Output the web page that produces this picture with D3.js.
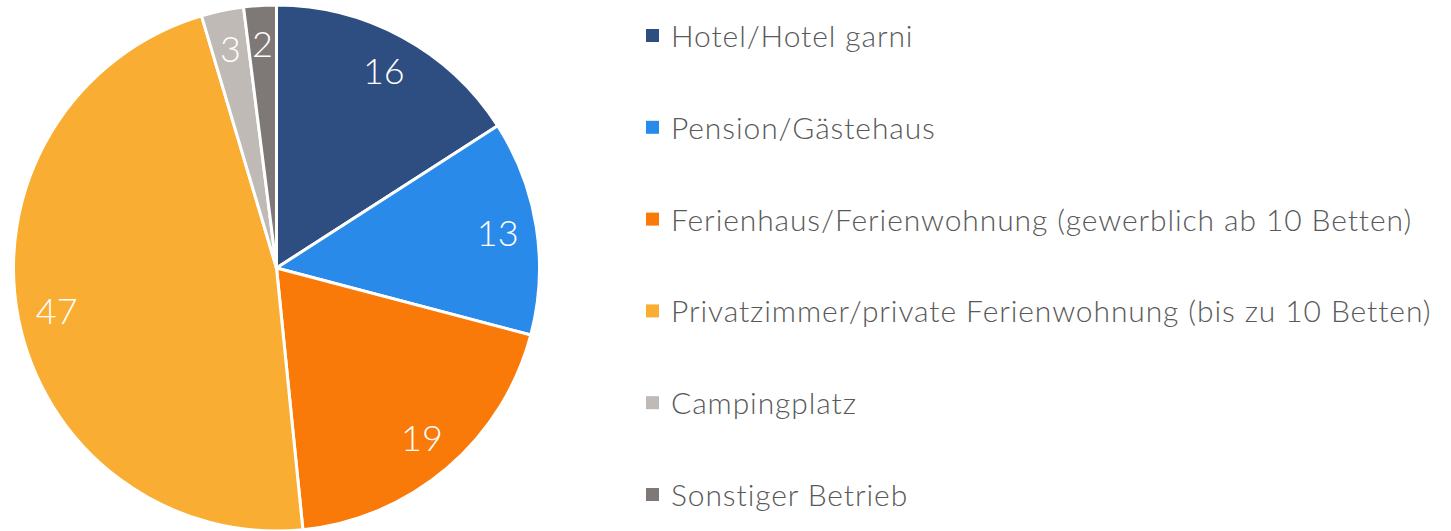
<!DOCTYPE html>
<html>
<head>
<meta charset="utf-8">
<script src="https://cdn.jsdelivr.net/npm/d3@7"></script>
<style>
  body { margin: 0; background: #fff; }
  svg { display: block; font-family: Lato, sans-serif; font-weight: 300; }
</style>
</head>
<body>
<svg class="chart" width="1451" height="531"></svg>
<script>
var categories = [
    "Hotel/Hotel garni",
    "Pension/Gästehaus",
    "Ferienhaus/Ferienwohnung (gewerblich ab 10 Betten)",
    "Privatzimmer/private Ferienwohnung (bis zu 10 Betten)",
    "Campingplatz",
    "Sonstiger Betrieb"
];
// shares in percent; labels show them rounded
var shares = [15.9, 13.2, 19.3, 47.0, 2.6, 2.0];
var colors = ["#2e4d80", "#2a8aea", "#f97a08", "#f9ae33", "#bfbab6", "#7e7976"];

var PIE_CENTER = { x: 276.5, y: 268 };
var PIE_RADIUS = 263;
var LABEL_RADIUS = 224;
var LEGEND = { x: 646, top: 47, step: 91.8, box: 13 };

var chart = d3.select(".chart");

// pie, clockwise from 12 o'clock
var pie = d3.pie().sort(null).value(function (d) { return d; });
var arcs = pie(shares);
var arc = d3.arc().innerRadius(0).outerRadius(PIE_RADIUS);
var labelArc = d3.arc().innerRadius(LABEL_RADIUS).outerRadius(LABEL_RADIUS);

var pieGroup = chart.append("g")
    .attr("transform", "translate(" + PIE_CENTER.x + "," + PIE_CENTER.y + ")");

pieGroup.selectAll("path")
    .data(arcs)
    .enter()
    .append("path")
    .attr("d", arc)
    .attr("fill", function (d, i) { return colors[i]; })
    .attr("stroke", "#fff")
    .attr("stroke-width", 3)
    .attr("stroke-linejoin", "round");

pieGroup.selectAll("text")
    .data(arcs)
    .enter()
    .append("text")
    .attr("transform", function (d) { return "translate(" + labelArc.centroid(d) + ")"; })
    .attr("text-anchor", "middle")
    .attr("dy", "0.36em")
    .attr("fill", "#fff")
    .style("font-size", "36px")
    .text(function (d) { return Math.round(d.data); });

// legend
var yScale = d3.scaleLinear()
    .domain([0, categories.length - 1])
    .range([LEGEND.top, LEGEND.top + LEGEND.step * (categories.length - 1)]);

var legend = chart.append("g")
    .selectAll("g")
    .data(categories)
    .enter()
    .append("g")
    .attr("transform", function (d, i) { return "translate(" + LEGEND.x + "," + yScale(i) + ")"; });

legend.append("rect")
    .attr("x", 0)
    .attr("y", -18)
    .attr("width", LEGEND.box)
    .attr("height", LEGEND.box)
    .attr("fill", function (d, i) { return colors[i]; });

legend.append("text")
    .attr("x", 25)
    .attr("fill", "#595959")
    .style("font-size", "30px")
    .style("letter-spacing", "0.9px")
    .text(function (d) { return d; });
</script>
</body>
</html>
